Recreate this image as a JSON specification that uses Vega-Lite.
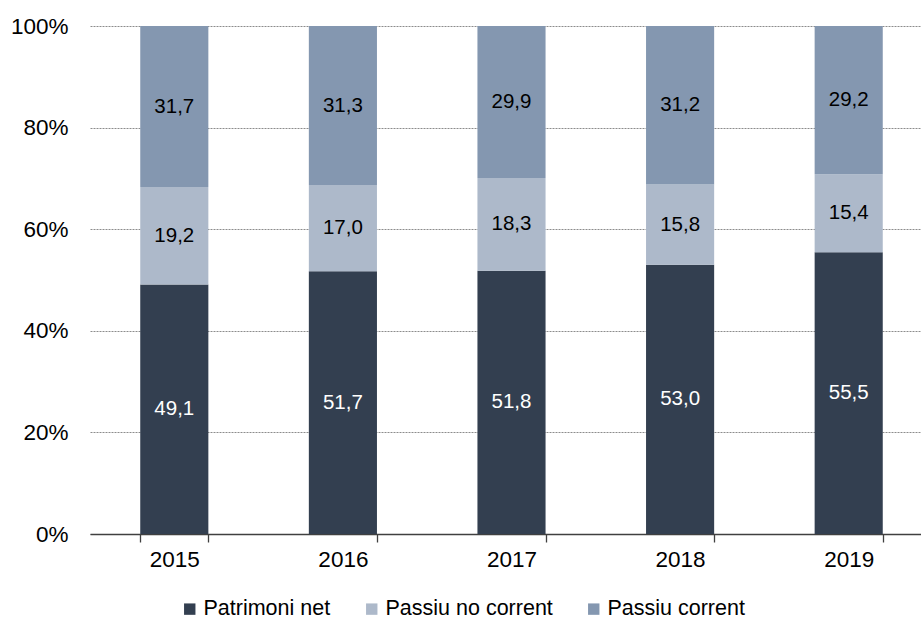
{
  "$schema": "https://vega.github.io/schema/vega-lite/v6.json",
  "autosize": {"type": "none"},
  "padding": {"left": 90, "top": 26, "right": 0, "bottom": 88},
  "width": 843,
  "height": 508,
  "background": "white",
  "data": {
    "values": [
      {"any": "2015", "serie": "Patrimoni net", "ord": 0, "valor": 49.1},
      {"any": "2015", "serie": "Passiu no corrent", "ord": 1, "valor": 19.2},
      {"any": "2015", "serie": "Passiu corrent", "ord": 2, "valor": 31.7},
      {"any": "2016", "serie": "Patrimoni net", "ord": 0, "valor": 51.7},
      {"any": "2016", "serie": "Passiu no corrent", "ord": 1, "valor": 17.0},
      {"any": "2016", "serie": "Passiu corrent", "ord": 2, "valor": 31.3},
      {"any": "2017", "serie": "Patrimoni net", "ord": 0, "valor": 51.8},
      {"any": "2017", "serie": "Passiu no corrent", "ord": 1, "valor": 18.3},
      {"any": "2017", "serie": "Passiu corrent", "ord": 2, "valor": 29.9},
      {"any": "2018", "serie": "Patrimoni net", "ord": 0, "valor": 53.0},
      {"any": "2018", "serie": "Passiu no corrent", "ord": 1, "valor": 15.8},
      {"any": "2018", "serie": "Passiu corrent", "ord": 2, "valor": 31.2},
      {"any": "2019", "serie": "Patrimoni net", "ord": 0, "valor": 55.5},
      {"any": "2019", "serie": "Passiu no corrent", "ord": 1, "valor": 15.4},
      {"any": "2019", "serie": "Passiu corrent", "ord": 2, "valor": 29.2}
    ]
  },
  "transform": [
    {"stack": "valor", "groupby": ["any"], "sort": [{"field": "ord", "order": "ascending"}], "offset": "normalize", "as": ["y0", "y1"]},
    {"calculate": "(datum.y0 + datum.y1) / 2", "as": "ymid"}
  ],
  "encoding": {
    "x": {
      "field": "any", "type": "nominal", "title": null,
      "scale": {"paddingInner": 0.596, "paddingOuter": 0.298},
      "axis": {
        "labelAngle": 0, "labelFont": "Liberation Sans", "labelFontSize": 22.5, "labelColor": "#000000",
        "labelPadding": 6, "domainColor": "#404040", "domainWidth": 1.3,
        "tickColor": "#404040", "tickWidth": 1.3, "tickSize": 8, "tickBand": "extent", "grid": false
      }
    }
  },
  "layer": [
    {
      "mark": {"type": "bar"},
      "encoding": {
        "y": {
          "field": "y0", "type": "quantitative", "title": null,
          "scale": {"domain": [0, 1]},
          "axis": {
            "format": ".0%", "values": [0, 0.2, 0.4, 0.6, 0.8, 1], "labelOverlap": false,
            "labelFont": "Liberation Sans", "labelFontSize": 22.5, "labelColor": "#000000",
            "labelPadding": 22, "ticks": false, "domain": false,
            "grid": true, "gridColor": "#8c8c8c", "gridDash": [2, 1], "gridWidth": 1
          }
        },
        "y2": {"field": "y1"},
        "color": {
          "field": "serie", "type": "nominal",
          "scale": {
            "domain": ["Patrimoni net", "Passiu no corrent", "Passiu corrent"],
            "range": ["#333f50", "#adb9ca", "#8497b0"]
          },
          "legend": {
            "title": null, "orient": "none", "direction": "horizontal",
            "legendX": 89, "legendY": 572,
            "symbolType": "square", "symbolSize": 130, "symbolStrokeWidth": 0, "symbolOpacity": 1,
            "labelFont": "Liberation Sans", "labelFontSize": 21.5, "labelColor": "#000000",
            "labelLimit": 400, "labelOffset": 3, "columnPadding": 30
          }
        }
      }
    },
    {
      "mark": {"type": "text", "font": "Liberation Sans", "fontSize": 20.5, "baseline": "middle", "align": "center"},
      "encoding": {
        "y": {"field": "ymid", "type": "quantitative"},
        "text": {"field": "valor", "type": "quantitative", "format": ".1f"},
        "color": {
          "condition": {"test": "datum.serie === 'Patrimoni net'", "value": "#ffffff"},
          "value": "#000000"
        }
      }
    }
  ],
  "config": {
    "locale": {"number": {"decimal": ",", "thousands": ".", "grouping": [3], "currency": ["", " €"]}},
    "view": {"stroke": null}
  }
}
